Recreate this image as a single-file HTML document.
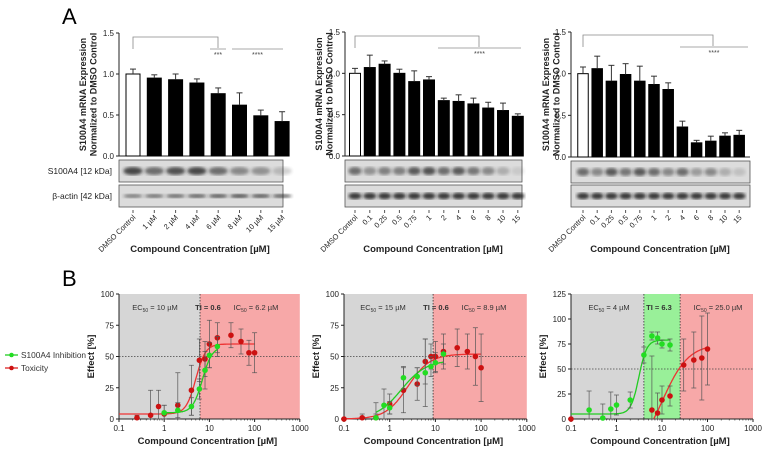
<!DOCTYPE html>
<html><head><meta charset="utf-8">
<style>
html,body{margin:0;padding:0;background:#fff;}
svg{display:block;font-family:"Liberation Sans",Arial,sans-serif;}
</style></head>
<body>
<svg id="fig" width="763" height="452" viewBox="0 0 763 452" xmlns="http://www.w3.org/2000/svg">
<defs>
<filter id="blur1"><feGaussianBlur stdDeviation="1.6"/></filter>
</defs>
<text x="62" y="24" font-size="22">A</text>
<text x="62" y="286" font-size="22">B</text>
<g>
<line x1="5" y1="355" x2="18" y2="355" stroke="#22cc22" stroke-width="1.3"/>
<circle cx="11.5" cy="355" r="2.3" fill="#22dd22"/>
<text x="21" y="358" font-size="8.3" fill="#333">S100A4 Inhibition</text>
<line x1="5" y1="368" x2="18" y2="368" stroke="#dd2222" stroke-width="1.3"/>
<circle cx="11.5" cy="368" r="2.3" fill="#cc1111"/>
<text x="21" y="371" font-size="8.3" fill="#333">Toxicity</text>
</g>
</svg>
<script>
// ---------- Panel A data ----------
const a1Labels = ["DMSO Control","1 µM","2 µM","4 µM","6 µM","8 µM","10 µM","15 µM"];
const a1Values = [1.0,0.95,0.93,0.89,0.76,0.62,0.49,0.42];
const a1Errors = [0.06,0.04,0.07,0.05,0.07,0.15,0.07,0.12];
const a2Labels = ["DMSO Control","0.1","0.25","0.5","0.75","1","2","4","6","8","10","15"];
const a2Values = [1.0,1.07,1.11,1.0,0.9,0.92,0.67,0.66,0.63,0.58,0.55,0.48];
const a2Errors = [0.06,0.15,0.04,0.05,0.13,0.04,0.03,0.08,0.07,0.07,0.09,0.03];
const a3Labels = ["DMSO Control","0.1","0.25","0.5","0.75","1","2","4","6","8","10","15"];
const a3Values = [1.0,1.06,0.91,0.99,0.91,0.87,0.81,0.36,0.17,0.19,0.25,0.26];
const a3Errors = [0.08,0.15,0.19,0.13,0.18,0.1,0.08,0.07,0.03,0.06,0.04,0.06];
const a1Band = [0.8,0.6,0.75,0.8,0.6,0.45,0.4,0.2];
const a2Band = [0.6,0.4,0.5,0.5,0.7,0.75,0.6,0.7,0.55,0.45,0.25,0.1];
const a3Band = [0.6,0.45,0.7,0.55,0.7,0.6,0.45,0.6,0.35,0.45,0.25,0.15];
const yTicksA = [0,0.5,1.0,1.5];
// ---------- Panel B data ----------
const b1InhX=[1,2,4,6,8,10,15], b1InhY=[5,7,10,24,39,51,58], b1InhE=[6,6,7,8,15,10,8];
const b1ToxX=[0.25,0.5,0.75,1,2,4,6,8,10,15,30,50,75,100];
const b1ToxY=[1,3,10,4,11,23,47,48,60,65,67,62,53,53];
const b1ToxE=[2,20,13,7,26,20,17,14,19,12,10,10,10,16];
const b2InhX=[0.5,0.75,1,2,4,6,8,10,15], b2InhY=[1,11,9,33,34,37,42,45,52], b2InhE=[12,13,5,9,7,27,8,8,8];
const b2ToxX=[0.1,0.25,0.5,1,2,4,6,8,10,15,30,50,75,100];
const b2ToxY=[0,1,1,12,23,28,46,50,50,54,57,54,50,41];
const b2ToxE=[0,3,3,8,18,13,18,10,12,14,15,14,23,27];
const b3InhX=[0.25,0.5,0.75,1,2,4,6,8,10,15], b3InhY=[9,1,10,14,19,64,83,81,75,74], b3InhE=[19,14,17,10,8,8,4,6,4,6];
const b3ToxX=[0.1,6,8,10,15,30,50,75,100], b3ToxY=[0,9,6,19,23,54,59,61,70], b3ToxE=[0,54,20,14,10,26,28,42,36];
const xTicksB=[0.1,1,10,100,1000];

const svg=document.getElementById('fig');
const NS='http://www.w3.org/2000/svg';
function el(tag,attrs,parent,text){const e=document.createElementNS(NS,tag);for(const k in attrs)e.setAttribute(k,attrs[k]);if(text!==undefined)e.textContent=text;(parent||svg).appendChild(e);return e;}

function barPanel(cfg,labels,values,errors,band){
  const g=el('g',{});
  
  
  const y=v=>cfg.y0-(v/1.5)*(cfg.y0-cfg.y15);
  const n=labels.length;
  const xc=i=>cfg.x0+cfg.off+i*cfg.pitch;
  el('line',{x1:cfg.x0,y1:cfg.y15,x2:cfg.x0,y2:cfg.y0,stroke:'#222','stroke-width':1},g);
  el('line',{x1:cfg.x0,y1:cfg.y0,x2:cfg.x1,y2:cfg.y0,stroke:'#222','stroke-width':1},g);
  yTicksA.forEach(t=>{
    el('line',{x1:cfg.x0-3,y1:y(t),x2:cfg.x0,y2:y(t),stroke:'#222'},g);
    const tt=el('text',{x:cfg.x0-5,y:y(t)+3,'font-size':8,'text-anchor':'end',fill:'#222'},g,t.toFixed(1));
    
    
  });
  const yt=el('text',{transform:`translate(${cfg.ytx},${(cfg.y0+cfg.y15)/2}) rotate(-90)`,'font-size':9,'font-weight':'bold','text-anchor':'middle',fill:'#222'},g);
  
  
  el('tspan',{x:0,dy:0},yt,'S100A4 mRNA Expression');
  el('tspan',{x:0,dy:10.5},yt,'Normalized to DMSO Control');
  for(let i=0;i<n;i++){
    const top=y(values[i]);
    const r=el('rect',{x:xc(i)-cfg.bw/2,y:top,width:cfg.bw,height:cfg.y0-top,fill:i===0?'#fff':'#000',stroke:'#000','stroke-width':1},g);
    
    
    const et=y(values[i]+errors[i]);
    el('line',{x1:xc(i),y1:top,x2:xc(i),y2:et,stroke:'#333','stroke-width':1},g);
    el('line',{x1:xc(i)-3,y1:et,x2:xc(i)+3,y2:et,stroke:'#333','stroke-width':1},g);
  }
  const blots=[[cfg.b1,'s100a4-blot'],[cfg.b2,'actin-blot']];
  blots.forEach(([by,nm],k)=>{
    const b=el('rect',{x:cfg.x0,y:by,width:cfg.x1-cfg.x0,height:22,fill:'#dcdcdc',stroke:'#555','stroke-width':0.8},g);
    
    
    for(let i=0;i<n;i++){
      const op=k===0?band[i]:(cfg.actinStrong?0.9:0.55+0.3*(1-Math.abs(i-5)/6));
      el('ellipse',{cx:xc(i),cy:by+11,rx:cfg.pitch*0.45,ry:k===0?4:(cfg.actinStrong?3.2:1.8),fill:'#222',opacity:op,filter:'url(#blur1)'},g);
    }
  });
  for(let i=0;i<n;i++){
    el('line',{x1:xc(i),y1:cfg.b2+25,x2:xc(i),y2:cfg.b2+28,stroke:'#555'},g);
    const t=el('text',{transform:`translate(${xc(i)+3},${cfg.b2+33}) rotate(-45)`,'font-size':7.5,'text-anchor':'end',fill:'#222'},g,labels[i]);
    
    
  }
  const xt=el('text',{x:cfg.titleX,y:252,'font-size':9.5,'font-weight':'bold','text-anchor':'middle',fill:'#222'},g,'Compound Concentration [µM]');
  
  
  const sg=cfg.sig;
  el('polyline',{points:`${xc(0)},${sg.y1+12} ${xc(0)},${sg.y1} ${sg.xm},${sg.y1} ${sg.xm},${sg.y1+11}`,fill:'none',stroke:'#888','stroke-width':0.8},g);
  sg.lines.forEach(L=>{
    el('line',{x1:L[0],y1:sg.y1+12,x2:L[1],y2:sg.y1+12,stroke:'#aaa','stroke-width':1},g);
    el('text',{x:(L[0]+L[1])/2,y:sg.y1+20,'font-size':7,'text-anchor':'middle',fill:'#444'},g,L[2]);
  });
  if(cfg.blotLabels){
    const l1=el('text',{x:112,y:174,'font-size':8.5,'text-anchor':'end',fill:'#222'},g,'S100A4 [12 kDa]');
    
    const l2=el('text',{x:112,y:199,'font-size':8.5,'text-anchor':'end',fill:'#222'},g,'β-actin [42 kDa]');
    
  }
}
barPanel({name:'panel-a1',x0:119,x1:283,y0:156,y15:33,off:14,pitch:21.3,bw:14,ytx:86,b1:160,b2:185,titleX:200,blotLabels:true,
  sig:{y1:37,xm:218,lines:[[210,226,'***'],[232,283,'****']]}},a1Labels,a1Values,a1Errors,a1Band);
barPanel({name:'panel-a2',x0:345,x1:522,y0:156,y15:32,off:10,pitch:14.8,bw:11,ytx:322,b1:160,b2:185,titleX:433,actinStrong:true,
  sig:{y1:36,xm:479,lines:[[438,521,'****']]}},a2Labels,a2Values,a2Errors,a2Band);
barPanel({name:'panel-a3',x0:571,x1:750,y0:157,y15:32,off:12,pitch:14.2,bw:10.5,ytx:549,b1:161,b2:185,titleX:660,actinStrong:true,
  sig:{y1:35,xm:713,lines:[[680,748,'****']]}},a3Labels,a3Values,a3Errors,a3Band);

function hill(x,b,t,ec,h){return b+(t-b)/(1+Math.pow(ec/x,h));}
function dosePanel(cfg){
  const g=el('g',{});
  
  
  const X=v=>cfg.x0+(Math.log10(v)+1)*cfg.dec;
  const Y=v=>cfg.y0-Math.max(0,Math.min(cfg.ymax,v))/cfg.ymax*(cfg.y0-cfg.yt);
  const xEnd=X(1000);
  cfg.regions.forEach(r=>{
    const rr=el('rect',{x:X(r[0]),y:cfg.yt,width:X(r[1])-X(r[0]),height:cfg.y0-cfg.yt,fill:r[2]},g);
    
    
  });
  cfg.vlines.forEach(v=>el('line',{x1:X(v),y1:cfg.yt,x2:X(v),y2:cfg.y0,stroke:'#333','stroke-width':0.8,'stroke-dasharray':'1.5,1.5'},g));
  el('line',{x1:cfg.x0,y1:Y(50),x2:xEnd,y2:Y(50),stroke:'#444','stroke-width':0.8,'stroke-dasharray':'1.5,1.5'},g);
  el('line',{x1:cfg.x0,y1:cfg.yt,x2:cfg.x0,y2:cfg.y0,stroke:'#222'},g);
  el('line',{x1:cfg.x0,y1:cfg.y0,x2:xEnd,y2:cfg.y0,stroke:'#222'},g);
  cfg.yticks.forEach(t=>{
    el('line',{x1:cfg.x0-3,y1:Y(t),x2:cfg.x0,y2:Y(t),stroke:'#222'},g);
    const tt=el('text',{x:cfg.x0-5,y:Y(t)+3,'font-size':8,'text-anchor':'end',fill:'#222'},g,String(t));
    
  });
  xTicksB.forEach(t=>{
    el('line',{x1:X(t),y1:cfg.y0,x2:X(t),y2:cfg.y0+3,stroke:'#222'},g);
    for(let m=2;m<10&&t<1000;m++){el('line',{x1:X(t*m),y1:cfg.y0,x2:X(t*m),y2:cfg.y0+1.5,stroke:'#222','stroke-width':0.6},g);}
    const tt=el('text',{x:X(t),y:cfg.y0+12,'font-size':8,'text-anchor':'middle',fill:'#222'},g,String(t));
    
  });
  const xt=el('text',{x:X(10)-2,y:cfg.y0+25,'font-size':9.5,'font-weight':'bold','text-anchor':'middle',fill:'#222'},g,'Compound Concentration [µM]');
  
  const yt=el('text',{transform:`translate(${cfg.x0-25},${(cfg.y0+cfg.yt)/2}) rotate(-90)`,'font-size':9.5,'font-weight':'bold','text-anchor':'middle',fill:'#222'},g,'Effect [%]');
  
  cfg.notes.forEach(n=>{
    const t=el('text',{x:n[0],y:cfg.yt+16,'font-size':7.5,'text-anchor':'middle',fill:'#333','font-weight':n[2]?'bold':'normal'},g);
    
    if(n[3]){el('tspan',{},t,n[3]);el('tspan',{'font-size':5,dy:2},t,'50');el('tspan',{dy:-2},t,n[1]);}
    else t.textContent=n[1];
  });
  cfg.series.forEach(s=>{
    let d='';
    for(let i=0;i<=120;i++){
      const lx=Math.log10(s.c[0])+(Math.log10(s.c[1])-Math.log10(s.c[0]))*i/120;
      const x=Math.pow(10,lx);let v=hill(x,s.p[0],s.p[1],s.p[2],s.p[3]);
      if(v<0)continue; d+=(d?'L':'M')+X(x).toFixed(1)+','+Y(v).toFixed(1);
    }
    const p=el('path',{d:d,fill:'none',stroke:s.line,'stroke-width':1.3},g);
    
    s.x.forEach((xv,i)=>{
      const e=s.e[i];
      if(e>0){
        el('line',{x1:X(xv),y1:Y(s.y[i]-e),x2:X(xv),y2:Y(s.y[i]+e),stroke:'#555','stroke-width':0.7},g);
        [s.y[i]-e,s.y[i]+e].forEach(v=>el('line',{x1:X(xv)-2.5,y1:Y(v),x2:X(xv)+2.5,y2:Y(v),stroke:'#555','stroke-width':0.7},g));
      }
      const c=el('circle',{cx:X(xv),cy:Y(s.y[i]),r:2.8,fill:s.fill},g);
      
    });
  });
}
const GRAY='#d6d6d6', RED='#f7a8a8', GREEN='#99f099';
dosePanel({name:'panel-b1',x0:119,dec:45.2,y0:419,yt:294,ymax:100,yticks:[0,25,50,75,100],
  regions:[[0.1,6.2,GRAY,'ec50-region'],[6.2,1000,RED,'ic50-region']],vlines:[6.2],
  notes:[[155,' = 10 µM',0,'EC'],[208,'TI = 0.6',1],[256,' = 6.2 µM',0,'IC']],
  series:[
   {name:'toxicity',x:b1ToxX,y:b1ToxY,e:b1ToxE,p:[4,60,5,4],c:[0.1,100],line:'#e33',fill:'#cc1111'},
   {name:'inhibition',x:b1InhX,y:b1InhY,e:b1InhE,p:[5,58,7,4],c:[1,15],line:'#2c2',fill:'#22dd22'}]});
dosePanel({name:'panel-b2',x0:344,dec:45.7,y0:419,yt:294,ymax:100,yticks:[0,25,50,75,100],
  regions:[[0.1,8.9,GRAY,'ec50-region'],[8.9,1000,RED,'ic50-region']],vlines:[8.9],
  notes:[[383,' = 15 µM',0,'EC'],[436,'TI = 0.6',1],[484,' = 8.9 µM',0,'IC']],
  series:[
   {name:'toxicity',x:b2ToxX,y:b2ToxY,e:b2ToxE,p:[0,52,2.5,1.8],c:[0.1,100],line:'#e33',fill:'#cc1111'},
   {name:'inhibition',x:b2InhX,y:b2InhY,e:b2InhE,p:[0,47,1.8,1.6],c:[0.5,15],line:'#2c2',fill:'#22dd22'}]});
dosePanel({name:'panel-b3',x0:571,dec:45.5,y0:419,yt:294,ymax:125,yticks:[0,25,50,75,100,125],
  regions:[[0.1,4,GRAY,'ec50-region'],[4,25,GREEN,'ti-region'],[25,1000,RED,'ic50-region']],vlines:[4,25],
  notes:[[609,' = 4 µM',0,'EC'],[659,'TI = 6.3',1],[718,' = 25.0 µM',0,'IC']],
  series:[
   {name:'inhibition',x:b3InhX,y:b3InhY,e:b3InhE,p:[5,79,3.1,5],c:[0.1,15],line:'#2c2',fill:'#22dd22'},
   {name:'toxicity',x:b3ToxX,y:b3ToxY,e:b3ToxE,p:[-40,75,10,1.5],c:[6,100],line:'#e33',fill:'#cc1111'}]});
</script>
</body></html>
